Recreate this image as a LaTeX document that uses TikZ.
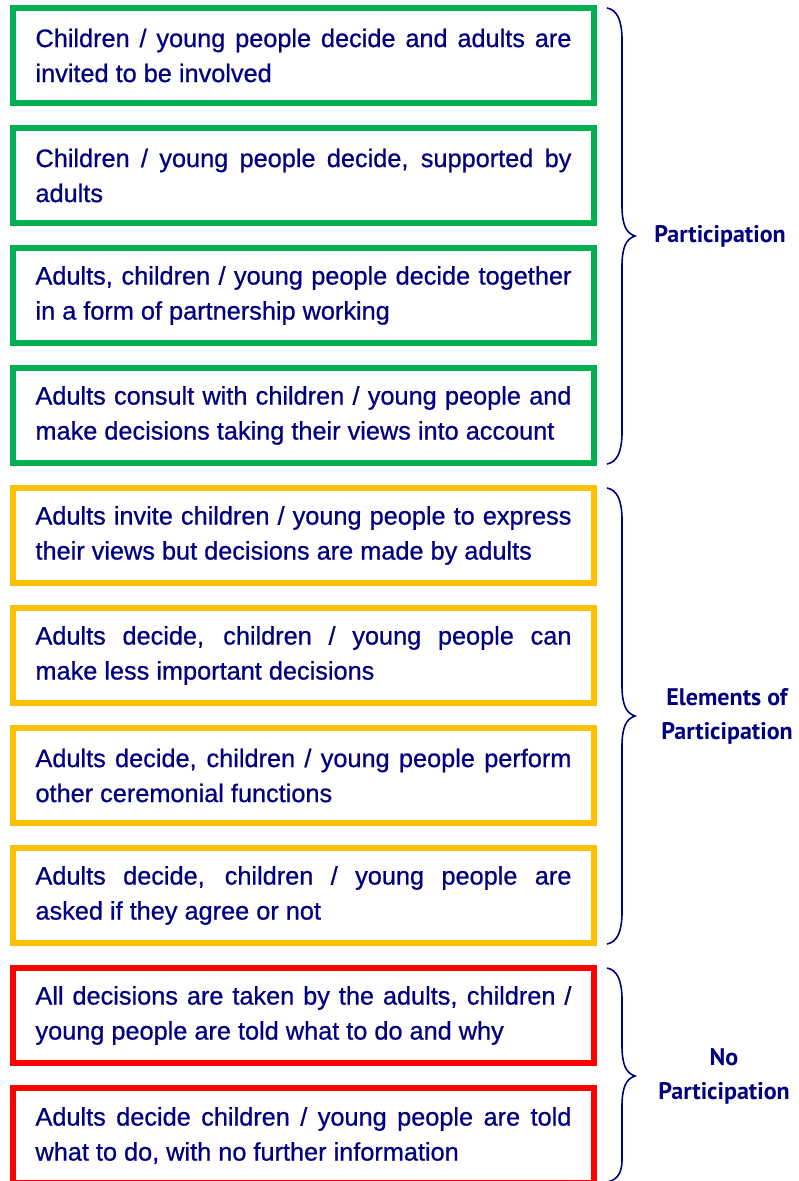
\documentclass[tikz,border=0pt]{standalone}
\usepackage{fontspec}
\setmainfont{PT Sans}
\newfontfamily\boxfont[FakeBold=0.7]{Liberation Sans}
\definecolor{navy}{HTML}{000080}
\definecolor{pgreen}{HTML}{00B050}
\definecolor{pyellow}{HTML}{FFC000}
\definecolor{pred}{HTML}{FF0000}
\begin{document}
\begin{tikzpicture}[x=1pt,y=-1pt,
  levelbox/.style={draw=#1, line width=6pt, minimum width=581pt, minimum height=95pt,
    text width=536pt, align=justify, inner sep=0pt, text=navy,
    font=\boxfont\fontsize{25.3}{35}\selectfont},
  bracepath/.style={draw=navy, line width=1.6pt},
  grouplabel/.style={text=navy, align=center, font=\fontsize{24}{34}\selectfont\bfseries}]
\useasboundingbox (0,0) rectangle (799,1181);
\node[levelbox=pgreen] (b1) at (303.5,55.5) {Children / young people decide and adults are\linebreak invited to be involved};
\node[levelbox=pgreen] (b2) at (303.5,175.5) {Children / young people decide, supported by\linebreak adults};
\node[levelbox=pgreen] (b3) at (303.5,295.5) {Adults, children / young people decide together\linebreak in a form of partnership working};
\node[levelbox=pgreen] (b4) at (303.5,415.5) {Adults consult with children / young people and\linebreak make decisions taking their views into account};
\node[levelbox=pyellow] (b5) at (303.5,535.5) {Adults invite children / young people to express\linebreak their views but decisions are made by adults};
\node[levelbox=pyellow] (b6) at (303.5,655.5) {Adults decide, children / young people can\linebreak make less important decisions};
\node[levelbox=pyellow] (b7) at (303.5,775.5) {Adults decide, children / young people perform\linebreak other ceremonial functions};
\node[levelbox=pyellow] (b8) at (303.5,895.5) {Adults decide, children / young people are\linebreak asked if they agree or not};
\node[levelbox=pred] (b9) at (303.5,1015.5) {All decisions are taken by the adults, children /\linebreak young people are told what to do and why};
\node[levelbox=pred] (b10) at (303.5,1135.5) {Adults decide children / young people are told\linebreak what to do, with no further information};
% braces
\draw[bracepath] (607,8) .. controls (618,10) and (622,22) .. (622,40) -- (622,205)
  .. controls (622,225) and (626,233) .. (635,236)
  .. controls (626,239) and (622,247) .. (622,267) -- (622,432)
  .. controls (622,450) and (618,462) .. (607,464);
\draw[bracepath] (607,488) .. controls (618,490) and (622,502) .. (622,520) -- (622,685)
  .. controls (622,705) and (626,713) .. (635,716)
  .. controls (626,719) and (622,727) .. (622,747) -- (622,912)
  .. controls (622,930) and (618,942) .. (607,944);
\draw[bracepath] (607,968) .. controls (618,970) and (622,982) .. (622,1000) -- (622,1045)
  .. controls (622,1065) and (626,1073) .. (635,1076)
  .. controls (626,1079) and (622,1087) .. (622,1107) -- (622,1160)
  .. controls (622,1172) and (618,1180) .. (607,1182);
\node[grouplabel] (l1) at (720,236) {Participation};
\node[grouplabel] (l2) at (727,716) {Elements of\\Participation};
\node[grouplabel] (l3) at (724,1076) {No\\Participation};
\end{tikzpicture}
\end{document}
